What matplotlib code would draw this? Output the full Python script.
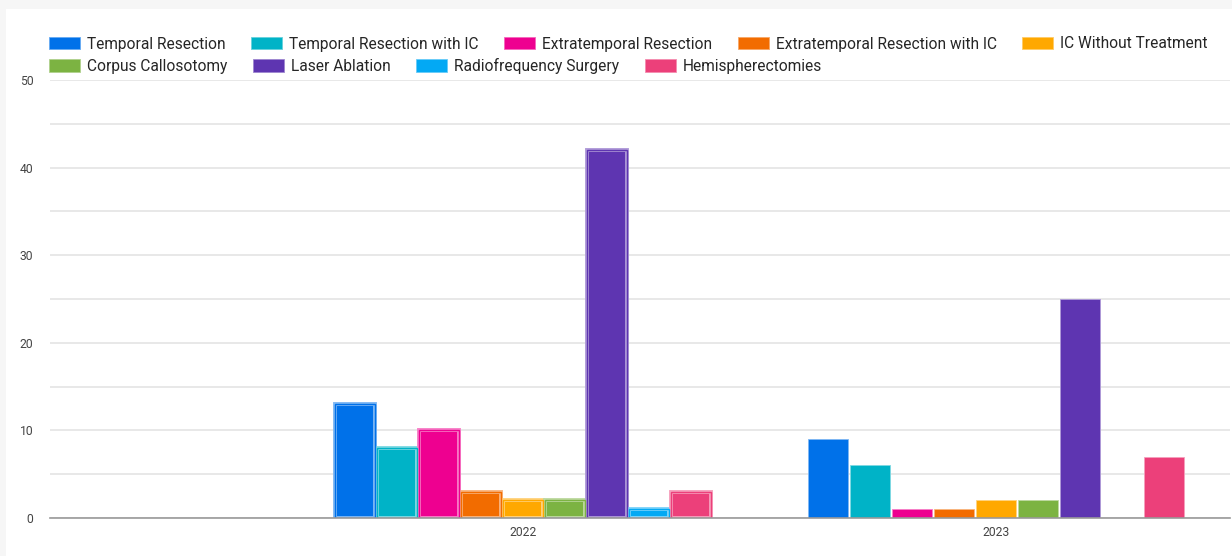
import matplotlib
matplotlib.use("Agg")
import matplotlib.pyplot as plt
import matplotlib.colors as mcolors
from matplotlib.patches import Patch, Rectangle
import numpy as np

plt.rcParams['font.family'] = ['Roboto', 'DejaVu Sans']

categories = ["", "2022", "2023"]
series_names = ["Temporal Resection", "Temporal Resection with IC", "Extratemporal Resection",
                "Extratemporal Resection with IC", "IC Without Treatment", "Corpus Callosotomy",
                "Laser Ablation", "Radiofrequency Surgery", "Hemispherectomies"]
colors = ["#0071E9", "#00B3C7", "#EE0090", "#F26C00", "#FFA800", "#7CB342",
          "#5E35B1", "#03A9F4", "#EC407A"]
values_2022 = [13, 8, 10, 3, 2, 2, 42, 1, 3]
values_2023 = [9, 6, 1, 1, 2, 2, 25, 0, 7]
yticks = [0, 10, 20, 30, 40, 50]

fig = plt.figure(figsize=(12.32, 5.56), dpi=100, facecolor='#f6f6f6')
fig.patches.append(Rectangle((6/1232, 0), 1 - 6/1232, 1 - 9/556, transform=fig.transFigure,
                             facecolor='white', edgecolor='none', zorder=-10))
ax = fig.add_axes([50/1232, 38/556, 1180/1232, 438/556])
ax.set_facecolor('white')

n = len(series_names)
slot = 42/473
width = 40.5/473
x_pos = np.arange(len(categories))

def lighten(c, amt=0.45):
    r, g, b = mcolors.to_rgb(c)
    return (r + (1-r)*amt, g + (1-g)*amt, b + (1-b)*amt)

for i in range(n):
    off = (i - (n-1)/2) * slot
    # 2022: highlighted style
    v22 = values_2022[i]
    ax.bar(x_pos[1] + off, v22, width=width, color=colors[i],
           edgecolor=lighten(colors[i], 0.5), linewidth=2.8, zorder=3)
    ax.bar(x_pos[1] + off, v22, width=width, fill=False,
           edgecolor=colors[i], linewidth=1.0, zorder=4)
    # 2023: plain
    v23 = values_2023[i]
    if v23 > 0:
        ax.bar(x_pos[2] + off, v23, width=width, color=colors[i],
               edgecolor=lighten(colors[i], 0.5), linewidth=0.6, zorder=3)

ax.set_xlim(0, 2.495)
ax.set_ylim(0, 50)
ax.set_yticks(yticks)
ax.set_yticks(np.arange(5, 50, 10), minor=True)
ax.set_yticklabels([str(t) for t in yticks])
ax.set_xticks(x_pos[1:])
ax.set_xticklabels(categories[1:])
ax.tick_params(axis='y', which='both', length=0, pad=12, labelsize=8.7, labelcolor='#444444')
ax.tick_params(axis='x', length=0, pad=6, labelsize=8.7, labelcolor='#444444')
ax.grid(axis='y', which='both', color='#e4e4e4', linewidth=1.2, zorder=0)
ax.set_axisbelow(True)
for s in ['top', 'right', 'left']:
    ax.spines[s].set_visible(False)
ax.spines['bottom'].set_color('#999999')
ax.spines['bottom'].set_linewidth(1.2)
ax.spines['bottom'].set_zorder(5)

handles = [Patch(facecolor=colors[i], edgecolor=lighten(colors[i], 0.4), linewidth=0.6)
           for i in range(n)]
leg_kw = dict(frameon=False, fontsize=11.2, handlelength=2.0, handleheight=0.85,
              handletextpad=0.46, columnspacing=1.62, borderaxespad=0, borderpad=0,
              labelcolor='#262626')
leg1 = fig.legend(handles[:5], series_names[:5], ncol=5, loc='center left',
                  bbox_to_anchor=(49/1232, 1 - 44/556), **leg_kw)
leg2 = fig.legend(handles[5:], series_names[5:], ncol=4, loc='center left',
                  bbox_to_anchor=(49/1232, 1 - 66/556), **leg_kw)

fig.savefig("out.png", dpi=100, facecolor=fig.get_facecolor())
